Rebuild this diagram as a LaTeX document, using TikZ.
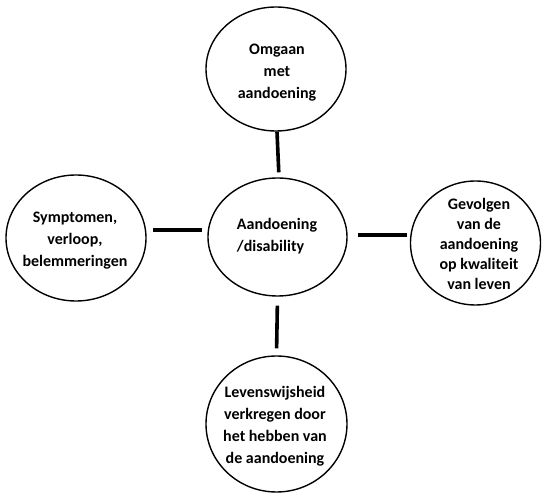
\documentclass[tikz,border=0pt]{standalone}
\usepackage{fontspec}
\setmainfont{Carlito}
\usetikzlibrary{shapes.geometric}
\begin{document}
\begin{tikzpicture}[x=1pt,y=-1pt,
  bubble/.style={ellipse, draw=black, line width=1.4pt, inner sep=0pt},
  txt/.style={align=center, font=\bfseries\fontsize{16}{22}\selectfont, inner sep=0pt},
  conn/.style={line width=3.6pt, draw=black}]
\useasboundingbox[fill=white] (0,0) rectangle (542,494);
% bubbles
\node[bubble, minimum width=140pt, minimum height=124pt] (top) at (276,69) {};
\node[bubble, minimum width=139pt, minimum height=118pt] (center) at (277.5,237) {};
\node[bubble, minimum width=140pt, minimum height=126pt] (left) at (76,238) {};
\node[bubble, minimum width=130pt, minimum height=124pt] (right) at (475.5,243) {};
\node[bubble, minimum width=141pt, minimum height=136pt] (bottom) at (276.5,424) {};
% texts
\node[txt] (ttop) at (277,73) {Omgaan\\met\\aandoening};
\node[txt, align=left] (tcenter) at (277,236) {Aandoening\\/disability};
\node[txt] (tleft) at (75,241) {Symptomen,\\verloop,\\belemmeringen};
\node[txt, font=\bfseries\fontsize{16}{20}\selectfont] (tright) at (479,244) {Gevolgen\\van de\\aandoening\\op kwaliteit\\van leven};
\node[txt] (tbottom) at (275,426) {Levenswijsheid\\verkregen door\\het hebben van\\de aandoening};
% connectors
\draw[conn, shorten >=5pt] ([xshift=1pt]top.south) -- ([xshift=1.5pt]center.north);
\draw[conn, shorten <=6pt, shorten >=5pt] ([yshift=8pt]left.east) -- ([yshift=7pt]center.west);
\draw[conn, shorten <=10pt, shorten >=3pt] ([yshift=2pt]center.east) -- ([yshift=8pt]right.west);
\draw[conn, shorten <=9pt, shorten >=7pt] (center.south) -- (bottom.north);
\end{tikzpicture}
\end{document}
